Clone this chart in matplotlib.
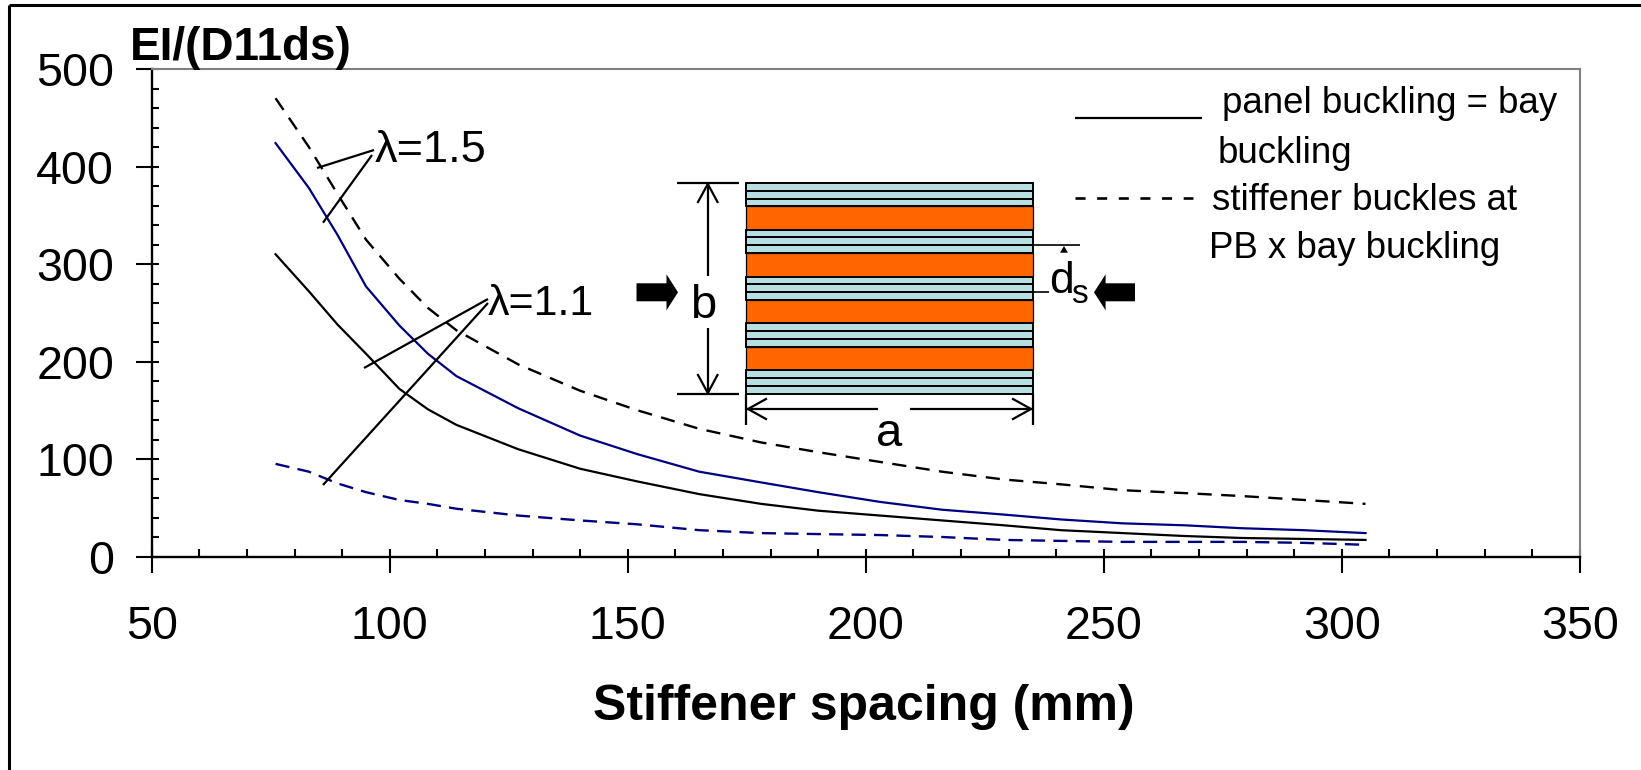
import matplotlib
matplotlib.use("Agg")
import matplotlib.pyplot as plt
from matplotlib.patches import Rectangle, Polygon
from matplotlib.ticker import MultipleLocator

plt.rcParams['font.family'] = ['Liberation Sans', 'DejaVu Sans']

W, H = 1641, 770

# Data
spacing = [76, 83, 89, 95, 102, 108, 114, 127, 140, 152, 165, 178, 190, 203, 216, 229, 241, 254, 267, 279, 292, 305]
black_solid = [310, 272, 238, 208, 172, 151, 135, 110, 90, 77, 64, 54, 47, 42, 37, 32, 27, 24, 21, 19, 18, 17]
blue_solid = [424, 378, 330, 277, 237, 208, 185, 152, 124, 105, 87, 76, 66, 56, 48, 43, 38, 34, 32, 29, 27, 24]
black_dash = [470, 420, 372, 325, 285, 255, 232, 197, 170, 150, 131, 117, 107, 97, 87, 79, 74, 68, 65, 62, 58, 54]
blue_dash = [95, 87, 75, 66, 58, 54, 49, 42, 37, 33, 27, 24, 23, 22, 20, 17, 16, 15, 15, 15, 14, 12]

x_ticks = [50, 100, 150, 200, 250, 300, 350]
y_ticks = [0, 100, 200, 300, 400, 500]

BLUE = "#000080"
ORANGE = "#FF6600"
PALE = "#B7DEE0"

fig = plt.figure(figsize=(W / 100, H / 100), dpi=100)

# Main axes
left, right, top, bottom = 151.8, 1579.7, 69, 556.5
ax = fig.add_axes([left / W, 1 - bottom / H, (right - left) / W, (bottom - top) / H])
ax.plot(spacing, black_solid, color="black", lw=1.6)
ax.plot(spacing, blue_solid, color=BLUE, lw=1.6)
ax.plot(spacing, black_dash, color="black", lw=1.7, dashes=(6, 4))
ax.plot(spacing, blue_dash, color=BLUE, lw=1.7, dashes=(6, 3.5))

ax.set_xlim(50, 350)
ax.set_ylim(0, 500)
ax.set_xticks(x_ticks)
ax.set_yticks(y_ticks)
ax.xaxis.set_minor_locator(MultipleLocator(10))
ax.yaxis.set_minor_locator(MultipleLocator(20))
ax.xaxis.remove_overlapping_locs = False
ax.yaxis.remove_overlapping_locs = False
ax.tick_params(axis="both", which="major", direction="out", length=11.2, width=1.5, labelsize=33.5)
ax.tick_params(axis="x", which="minor", direction="in", length=6, width=1.5)
ax.tick_params(axis="y", which="minor", direction="in", length=5, width=1.5)
ax.tick_params(axis="x", which="major", pad=24)
ax.tick_params(axis="y", which="major", pad=16)
for side in ["left", "bottom"]:
    ax.spines[side].set_linewidth(1.7)
for side in ["top", "right"]:
    ax.spines[side].set_color("#808080")
    ax.spines[side].set_linewidth(1.5)
ax.patch.set_alpha(0)

# Overlay in pixels for the frame, notes and the sketch
ov = fig.add_axes([0, 0, 1, 1])
ov.set_xlim(0, W)
ov.set_ylim(H, 0)
ov.axis("off")
ov.patch.set_alpha(0)


def line(x0, y0, x1, y1, lw=1.6, **kw):
    ov.plot([x0, x1], [y0, y1], color=kw.pop("color", "black"), lw=lw,
            solid_capstyle="butt", **kw)


def note(x, y, s, size, **kw):
    ov.text(x, y, s, fontsize=size, va="baseline", ha=kw.pop("ha", "left"), **kw)


# Outer frame
line(9.3, 5.3, W, 5.3, lw=2.2)
line(9.3, 4.5, 9.3, H, lw=2.2)

# Axis titles
note(130, 60, "EI/(D11ds)", 33, fontweight="bold")
note(864, 720, "Stiffener spacing (mm)", 36, fontweight="bold", ha="center")

# Curve notes
note(375, 162.5, "λ=1.5", 32.5)
note(488, 315, "λ=1.1", 31)
line(374, 150, 317, 168)
line(372, 155, 323, 222.7)
line(488, 299, 364, 368)
line(488, 303, 323, 485)

# Legend text
line(1074.5, 118.3, 1202, 118.3)
ov.plot([1075, 1193], [198, 198], color="black", lw=1.9, dashes=(3.8, 4.4))
note(1222, 113, "panel buckling = bay", 26.4)
note(1217.5, 162.7, "buckling", 26.4)
note(1212.5, 210, "stiffener buckles at", 26.4)
note(1208.6, 258, "PB x bay buckling", 26.4)

# Panel sketch
sx0, sx1 = 746.4, 1033
sy0 = 182.7
pitch = 46.9
for i in range(5):
    y = sy0 + i * pitch
    ov.add_patch(Rectangle((sx0, y), sx1 - sx0, 23.5, fc=PALE, ec="black", lw=1.4))
    line(sx0, y + 7.8, sx1, y + 7.8, lw=1.4)
    line(sx0, y + 15.8, sx1, y + 15.8, lw=1.4)
    if i < 4:
        ov.add_patch(Rectangle((sx0, y + 23.5), sx1 - sx0, 23.4, fc=ORANGE, ec="black", lw=0.9))

sy1 = sy0 + 4 * pitch + 23.5

# b dimension
line(677, sy0, 739, sy0)
line(677, sy1, 739, sy1)
line(707.8, sy0 + 1, 707.8, 275.7)
line(707.8, 328, 707.8, sy1 - 1)
ov.plot([698, 707.8, 717.5], [202, 184, 202], color="black", lw=1.6)
ov.plot([698, 707.8, 717.5], [375, 393, 375], color="black", lw=1.6)
note(703, 306, "b", 34, ha="center")
ov.texts[-1].set_va("center")

# a dimension
line(sx0, sy1, sx0, 425)
line(sx1, sy1, sx1, 425)
line(sx0 + 1, 409, 877.6, 409)
line(910, 409, sx1 - 1, 409)
ov.plot([766, 748, 766], [399, 409, 419], color="black", lw=1.6)
ov.plot([1013, 1031, 1013], [399, 409, 419], color="black", lw=1.6)
note(889.6, 434, "a", 34, ha="center")
ov.texts[-1].set_va("center")

# ds dimension
line(sx1, 245.3, 1080, 245.3, lw=1.2)
line(sx1, 292.3, 1048.7, 292.3, lw=1.2)
ov.add_patch(Polygon([[1064, 246], [1060, 252.7], [1068, 252.7]], fc="black", ec="none"))
note(1049, 293, "d", 32)
note(1071, 303, "s", 24)

# Load arrows
yc = 292.3
ov.add_patch(Polygon([[636.5, yc - 9], [666.5, yc - 9], [666.5, yc - 18], [678, yc],
                      [666.5, yc + 18], [666.5, yc + 9], [636.5, yc + 9]], fc="black", ec="none"))
ov.add_patch(Polygon([[1135, yc - 9], [1105.6, yc - 9], [1105.6, yc - 18], [1094, yc],
                      [1105.6, yc + 18], [1105.6, yc + 9], [1135, yc + 9]], fc="black", ec="none"))

fig.savefig("out.png", dpi=100, facecolor="white")
